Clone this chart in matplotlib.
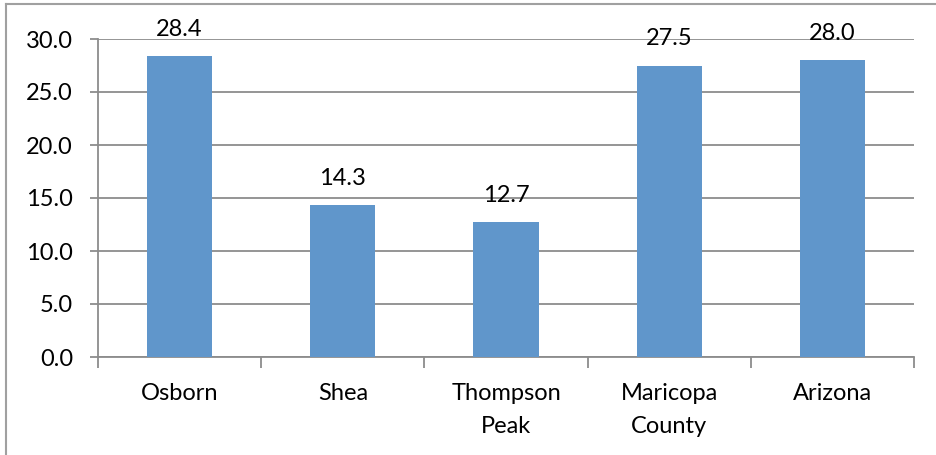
import matplotlib
matplotlib.use("Agg")
import matplotlib.pyplot as plt
from matplotlib.lines import Line2D
from matplotlib.transforms import blended_transform_factory

categories = ["Osborn", "Shea", "Thompson\nPeak", "Maricopa\nCounty", "Arizona"]
values = [28.4, 14.3, 12.7, 27.5, 28.0]
yticks = [0, 5, 10, 15, 20, 25, 30]

plt.rcParams['font.family'] = ['Lato', 'DejaVu Sans']
FS = 17
W, H = 936, 455
fig = plt.figure(figsize=(W/100, H/100), dpi=100)
ax = fig.add_axes([98/W, (H-357)/H, (914-98)/W, (357-39)/H])

bar_color = "#6096CB"
grid_color = "#8C8C8C"
x = list(range(len(categories)))
ax.bar(x, values, width=0.4, color=bar_color, zorder=3)
for xi, v in zip(x, values):
    ax.annotate(f"{v:.1f}", (xi, v), xytext=(0, 14.5), textcoords="offset points",
                ha="center", va="baseline", fontsize=FS, color="black")

ax.set_xlim(-0.5, len(categories) - 0.5)
ax.set_ylim(0, 30)
ax.set_yticks(yticks)
ax.set_yticklabels([f"{t:.1f}" for t in yticks], fontsize=FS)
ax.yaxis.grid(True, color=grid_color, linewidth=1.3, zorder=0)
ax.tick_params(axis='y', length=6, width=1.3, color=grid_color, pad=12)

ax.set_xticks([i - 0.5 for i in range(len(categories) + 1)])
ax.set_xticklabels([])
ax.tick_params(axis='x', length=8, width=1.3, color=grid_color)

trans = blended_transform_factory(ax.transData, fig.transFigure)
for xi, c in zip(x, categories):
    for li, line in enumerate(c.split("\n")):
        ypx = 400 + 33 * li
        ax.text(xi, 1 - ypx / H, line, transform=trans, ha="center", va="baseline", fontsize=FS)

for s in ["top", "right"]:
    ax.spines[s].set_visible(False)
for s in ["left", "bottom"]:
    ax.spines[s].set_color(grid_color)
    ax.spines[s].set_linewidth(1.3)

# outer chart border (cropped)
fig.add_artist(Line2D([6/W, 1.0], [1 - 4/H, 1 - 4/H], transform=fig.transFigure, color="#A0A0A0", linewidth=1.5))
fig.add_artist(Line2D([6/W, 6/W], [0.0, 1 - 4/H], transform=fig.transFigure, color="#A0A0A0", linewidth=1.5))

fig.savefig("out.png", dpi=100)
